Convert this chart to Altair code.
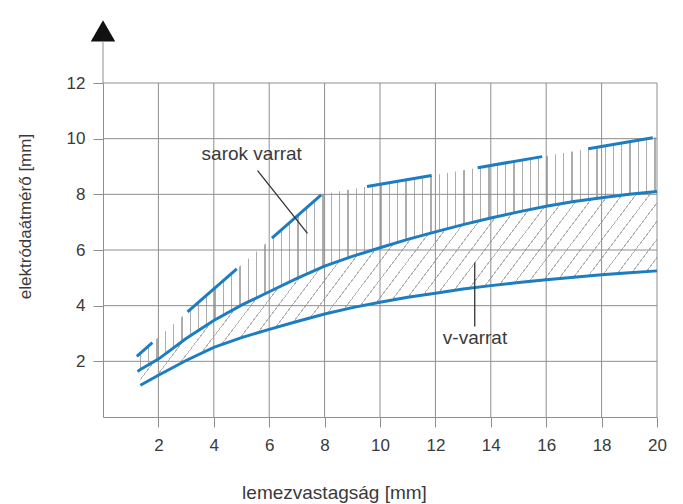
import math
import altair as alt
import pandas as pd

# ---------------- data ----------------
x_ticks = [2, 4, 6, 8, 10, 12, 14, 16, 18, 20]
y_ticks = [2, 4, 6, 8, 10, 12]

# upper boundary of the v-varrat band
upper_x = [1.25, 1.35, 2, 3, 4, 5, 6, 7, 8, 9, 10, 11, 12, 13, 14, 15, 16, 17, 18, 19, 20]
upper_y = [1.63, 1.71, 2.08, 2.82, 3.47, 4.02, 4.50, 4.98, 5.42, 5.77, 6.08, 6.38, 6.65,
           6.91, 7.15, 7.37, 7.57, 7.74, 7.88, 8.00, 8.10]
# lower boundary of the v-varrat band
lower_x = [1.35, 2, 3, 4, 5, 6, 7, 8, 9, 10, 11, 12, 13, 14, 15, 16, 17, 18, 19, 20]
lower_y = [1.14, 1.50, 2.03, 2.50, 2.85, 3.15, 3.43, 3.70, 3.93, 4.12, 4.30, 4.45,
           4.60, 4.72, 4.83, 4.93, 5.02, 5.11, 5.18, 5.25]
# upper (dashed) boundary of the sarok varrat band
sarok_x = [1.22, 7.9, 20]
sarok_y = [2.18, 8.0, 10.06]

# annotations
ann_text = ["sarok varrat", "v-varrat"]
ann_x = [5.37, 13.43]
ann_y = [9.46, 2.85]
lead_x = [5.58, 13.42]
lead_y = [8.85, 5.55]
lead_x2 = [7.38, 13.42]
lead_y2 = [6.60, 3.25]

# axis arrow
arrow_x = [0]
arrow_y = [13.87]
axis_ext_y = [12]
axis_ext_y2 = [13.47]

# ---------------- styling / layout ----------------
W, H = 554, 334
XMAX, YMAX = 20, 12
SX, SY = W / XMAX, H / YMAX
BLUE = "#1c7dc0"
GRID = "#8e8e8e"
HATCH_V = "#adadad"
HATCH_D = "#b3b3b3"
TXT = "#3a3a3a"
FONT = "Liberation Sans"

xscale = alt.Scale(domain=[0, XMAX], nice=False, zero=False)
yscale = alt.Scale(domain=[0, YMAX], nice=False, zero=False)
xaxis = alt.Axis(values=x_ticks, grid=False, tickSize=10, tickColor=GRID, domainColor=GRID,
                 labelFontSize=17, labelColor=TXT, labelFont=FONT, labelPadding=10,
                 title="lemezvastagság [mm]", titleFont=FONT, titleFontSize=19,
                 titleFontWeight="normal", titleColor=TXT, titleX=231, titleY=81,
                 titleAlign="center", titleBaseline="alphabetic", zindex=1, labelFlush=False)
yaxis = alt.Axis(values=y_ticks, grid=False, tickSize=10, tickColor=GRID, domainColor=GRID,
                 labelFontSize=17, labelColor=TXT, labelFont=FONT, labelPadding=8,
                 title="elektródaátmérő [mm]", titleFont=FONT, titleFontSize=17,
                 titleFontWeight="normal", titleColor=TXT, titleX=-78, titleY=133,
                 titleAlign="center", titleBaseline="middle", titleAngle=270, zindex=1,
                 labelFlush=False)


def X(f):
    return alt.X(f, type="quantitative", scale=xscale, axis=xaxis)


def Y(f):
    return alt.Y(f, type="quantitative", scale=yscale, axis=yaxis)


def stripes(total, spacing, width, start, color, bg="#ffffff"):
    stops = [alt.GradientStop(offset=0, color=bg)]
    pos = start
    while pos + width < total:
        a, b = pos / total, (pos + width) / total
        stops += [alt.GradientStop(offset=a, color=bg), alt.GradientStop(offset=a, color=color),
                  alt.GradientStop(offset=b, color=color), alt.GradientStop(offset=b, color=bg)]
        pos += spacing
    stops.append(alt.GradientStop(offset=1, color=bg))
    return stops


upper = pd.DataFrame({"x": upper_x, "y": upper_y})
lower = pd.DataFrame({"x": lower_x, "y": lower_y})
sarok = pd.DataFrame({"x": sarok_x, "y": sarok_y})
band = lower.rename(columns={"y": "lo"}).merge(upper.rename(columns={"y": "up"}), on="x")

# vertical hatch (sarok varrat) : horizontal gradient over the area's bounding box
w1 = (max(sarok_x) - min(sarok_x)) * SX
vfill = alt.Gradient(gradient="linear", x1=0, y1=0, x2=1, y2=0,
                     stops=stripes(w1, 8.3, 1.3, 3.0, HATCH_V))

# diagonal hatch (v-varrat)
theta = math.radians(53)
w2 = (band.x.max() - band.x.min()) * SX
h2 = (band.up.max() - band.lo.min()) * SY
r = (w2 / h2) * math.tan(theta)
k = (r + 1) / (r * r + 1)
total_h = (r + 1) * w2 / r
dfill = alt.Gradient(gradient="linear", x1=0, y1=0, x2=k * r, y2=k,
                     stops=stripes(total_h, 13.7, 1.2, 4.0, HATCH_D, bg="rgba(255,255,255,0)"))

sarok_area = alt.Chart(sarok).mark_area(fill=vfill, orient="vertical").encode(
    x=X("x"), y=Y("y"), y2=alt.datum(0))
mask = alt.Chart(upper).mark_area(color="white", orient="vertical").encode(
    x=X("x"), y=Y("y"), y2=alt.datum(0))
band_area = alt.Chart(band).mark_area(fill=dfill, orient="vertical").encode(
    x=X("x"), y=Y("lo"), y2="up")

vgrid = alt.Chart(pd.DataFrame({"x": x_ticks})).mark_rule(color=GRID, strokeWidth=1).encode(x=X("x"))
hgrid = alt.Chart(pd.DataFrame({"y": y_ticks})).mark_rule(color=GRID, strokeWidth=1).encode(y=Y("y"))

axis_ext = alt.Chart(pd.DataFrame({"x": arrow_x, "y": axis_ext_y, "y2": axis_ext_y2})).mark_rule(
    color=GRID, strokeWidth=1).encode(x=X("x"), y=Y("y"), y2="y2")
arrow = alt.Chart(pd.DataFrame({"x": arrow_x, "y": arrow_y})).mark_point(
    shape="triangle-up", filled=True, size=600, color="#111111", opacity=1, strokeWidth=0).encode(
    x=X("x"), y=Y("y"))

line_up = alt.Chart(upper).mark_line(color=BLUE, strokeWidth=3).encode(x=X("x"), y=Y("y"))
line_lo = alt.Chart(lower).mark_line(color=BLUE, strokeWidth=3).encode(x=X("x"), y=Y("y"))
line_sarok = alt.Chart(sarok).mark_line(color=BLUE, strokeWidth=3, strokeDash=[65.5, 46.7],
                                        strokeDashOffset=44.8).encode(x=X("x"), y=Y("y"))

leaders = alt.Chart(pd.DataFrame({"x": lead_x, "y": lead_y, "x2": lead_x2, "y2": lead_y2})).mark_rule(
    color="#333333", strokeWidth=1.3).encode(x=X("x"), y=Y("y"), x2="x2", y2="y2")
texts = alt.Chart(pd.DataFrame({"x": ann_x, "y": ann_y, "t": ann_text})).mark_text(
    font=FONT, fontSize=19, color=TXT, align="center", baseline="middle").encode(
    x=X("x"), y=Y("y"), text="t:N")

chart = alt.layer(
    sarok_area, mask, band_area, vgrid, hgrid, axis_ext, arrow,
    line_up, line_lo, line_sarok, leaders, texts
).properties(
    width=W, height=H, autosize="none",
    padding={"left": 95, "top": 75, "right": 18, "bottom": 87},
    background="white",
).configure_view(stroke=None)

chart.save("out.html", embed_options={"renderer": "svg", "actions": False})
